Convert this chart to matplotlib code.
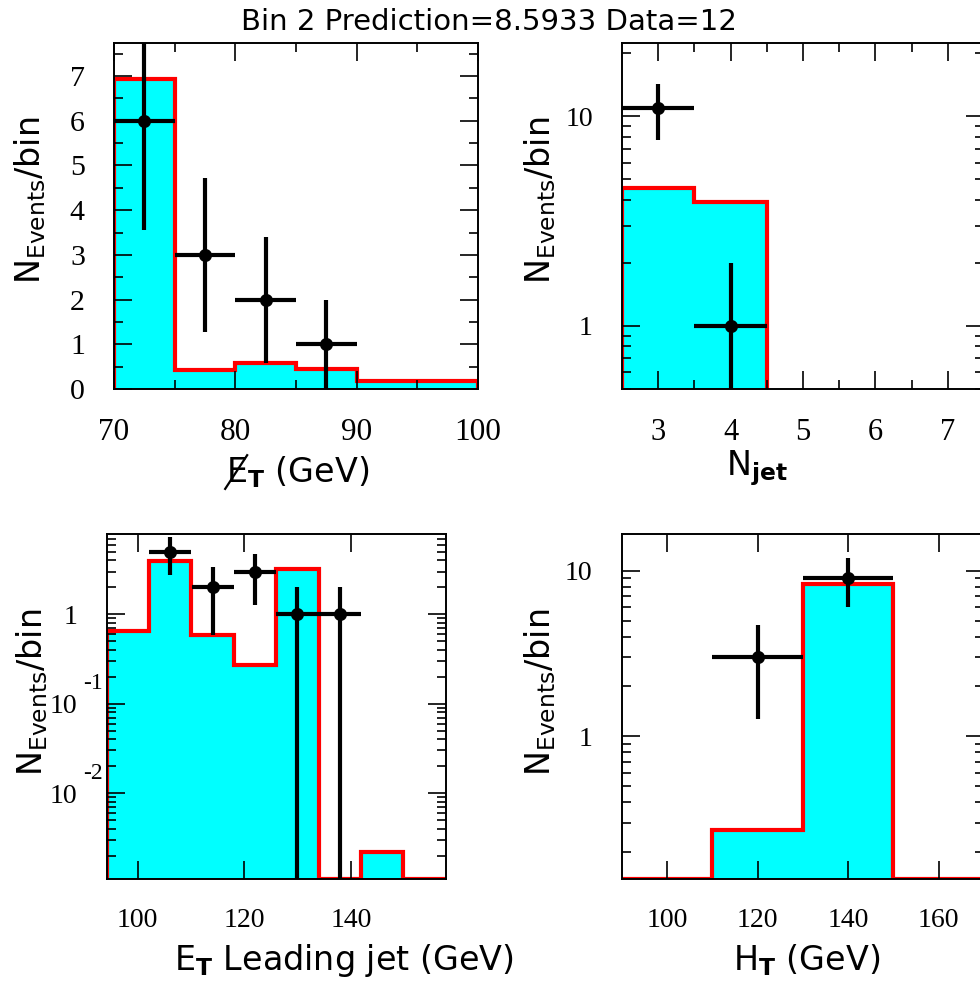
import numpy as np
import matplotlib
matplotlib.use('Agg')
import matplotlib.pyplot as plt
from matplotlib import transforms
from matplotlib.lines import Line2D
from matplotlib.ticker import FixedLocator, FixedFormatter, NullFormatter, LogLocator

plt.rcParams['mathtext.fontset'] = 'dejavusans'

title = 'Bin 2 Prediction=8.5933 Data=12'

# missing ET
met_edges = [70, 75, 80, 85, 90, 95, 100]
met_pred = [6.93, 0.42, 0.58, 0.45, 0.17, 0.17]
met_x = [72.5, 77.5, 82.5, 87.5]
met_xerr = [2.5, 2.5, 2.5, 2.5]
met_data = [6, 3, 2, 1]
met_err = [2.45, 1.73, 1.41, 1.0]

# number of jets
njet_edges = [2.5, 3.5, 4.5]
njet_pred = [4.55, 3.9]
njet_x = [3, 4]
njet_xerr = [0.5, 0.5]
njet_data = [11, 1]
njet_err = [3.32, 1.0]

# leading jet ET
jet_edges = [94.2, 102.15, 110.1, 118.05, 126.0, 133.95, 141.9, 149.85, 157.8]
jet_pred = [0.65, 3.97, 0.59, 0.27, 3.18, 0, 0.0022, 0]
jet_x = [106.1, 114.1, 122.0, 129.9, 137.9]
jet_xerr = [3.975] * 5
jet_data = [5, 2, 3, 1, 1]
jet_err = [2.24, 1.41, 1.73, 1.0, 1.0]

# HT
ht_edges = [90, 110, 130, 150, 170]
ht_pred = [0, 0.27, 8.3, 0]
ht_x = [120, 140]
ht_xerr = [10, 10]
ht_data = [3, 9]
ht_err = [1.73, 3.0]

ylab = 'N$_{\\mathregular{Events}}$/bin'
W, H = 980, 986


def draw_hist(ax, edges, vals, base):
    v = np.maximum(np.array(vals, dtype=float), base)
    ax.stairs(v, edges, baseline=base, fill=True, color='#00ffff', lw=0)
    ax.stairs(v, edges, baseline=base, color='#ff0000', lw=3)


def draw_data(ax, x, xerr, y, yerr):
    ax.errorbar(x, y, xerr=xerr, yerr=yerr, fmt='o', color='k', ms=8.4,
                elinewidth=3, capsize=0, zorder=5)


def style(ax, xs, ys):
    for s in ax.spines.values():
        s.set_linewidth(1.4)
    ax.tick_params(which='both', direction='in', top=True, right=True, width=1.2)
    ax.tick_params(which='major', length=13)
    ax.tick_params(which='minor', length=6.5)
    ax.tick_params(axis='x', pad=21, labelsize=xs)
    ax.tick_params(axis='y', pad=21, labelsize=ys)
    for lab in ax.get_xticklabels() + ax.get_yticklabels():
        lab.set_family('Liberation Serif')


def box(l, r, t, b):
    return [l / W, (H - b) / H, (r - l) / W, (b - t) / H]


fig = plt.figure(figsize=(9.8, 9.86), dpi=100)

# top left
ax1 = fig.add_axes(box(114, 478, 43, 389))
draw_hist(ax1, met_edges, met_pred, 0)
draw_data(ax1, met_x, met_xerr, met_data, met_err)
ax1.set_xlim(70, 100)
ax1.set_ylim(0, 7.74)
ax1.xaxis.set_major_locator(FixedLocator([70, 80, 90, 100]))
ax1.xaxis.set_minor_locator(FixedLocator([75, 85, 95]))
ax1.yaxis.set_major_locator(FixedLocator(range(8)))
ax1.yaxis.set_minor_locator(FixedLocator(np.arange(0.5, 7.6, 1.0)))
style(ax1, 22.5, 21.5)
ax1.set_xlabel('E$_{\\mathbf{T}}$ (GeV)', fontsize=24, va='center')
ax1.xaxis.set_label_coords(0.505, -0.24)
ax1.set_ylabel(ylab, fontsize=24, va='center')
ax1.yaxis.set_label_coords(-0.23, 0.546)

# top right
ax2 = fig.add_axes(box(622, 984, 43, 389))
ax2.set_yscale('log')
draw_hist(ax2, njet_edges, njet_pred, 0.5)
draw_data(ax2, njet_x, njet_xerr, njet_data, njet_err)
ax2.set_xlim(2.5, 7.5)
ax2.set_ylim(0.5, 22.4)
ax2.xaxis.set_major_locator(FixedLocator([3, 4, 5, 6, 7]))
ax2.xaxis.set_minor_locator(FixedLocator([3.5, 4.5, 5.5, 6.5, 7.5]))
ax2.yaxis.set_major_locator(FixedLocator([1, 10]))
ax2.yaxis.set_major_formatter(FixedFormatter(['1', '10']))
ax2.yaxis.set_minor_locator(LogLocator(subs=np.arange(2, 10)))
ax2.yaxis.set_minor_formatter(NullFormatter())
style(ax2, 22, 20)
ax2.set_xlabel('N$_{\\mathbf{jet}}$', fontsize=24, va='center')
ax2.xaxis.set_label_coords(0.373, -0.228)
ax2.set_ylabel(ylab, fontsize=24, va='center')
ax2.yaxis.set_label_coords(-0.226, 0.546)

# bottom left
ax3 = fig.add_axes(box(106.7, 445.7, 534, 879.3))
ax3.set_yscale('log')
draw_hist(ax3, jet_edges, jet_pred, 0.00109)
draw_data(ax3, jet_x, jet_xerr, jet_data, jet_err)
ax3.set_xlim(94.2, 157.8)
ax3.set_ylim(0.00109, 7.88)
ax3.xaxis.set_major_locator(FixedLocator([100, 120, 140]))
ax3.yaxis.set_major_locator(FixedLocator([0.01, 0.1, 1]))
ax3.yaxis.set_major_formatter(FixedFormatter(['10', '10', '1']))
ax3.yaxis.set_minor_locator(LogLocator(subs=np.arange(2, 10)))
ax3.yaxis.set_minor_formatter(NullFormatter())
style(ax3, 20, 20)
exp_tr = transforms.offset_copy(ax3.get_yaxis_transform(), fig=fig, x=-4, y=20, units='dots')
for yv, ex in [(0.1, '-1'), (0.01, '-2')]:
    ax3.text(0, yv, ex, transform=exp_tr, ha='right', va='center',
             fontsize=17, family='Liberation Serif')
ax3.set_xlabel('E$_{\\mathbf{T}}$ Leading jet (GeV)', fontsize=24, va='center')
ax3.xaxis.set_label_coords(0.6985, -0.234)
ax3.set_ylabel(ylab, fontsize=24, va='center')
ax3.yaxis.set_label_coords(-0.22, 0.542)

# bottom right
ax4 = fig.add_axes(box(621.7, 984, 534, 879.3))
ax4.set_yscale('log')
draw_hist(ax4, ht_edges, ht_pred, 0.136)
draw_data(ax4, ht_x, ht_xerr, ht_data, ht_err)
ax4.set_xlim(90, 170)
ax4.set_ylim(0.136, 16.7)
ax4.xaxis.set_major_locator(FixedLocator([100, 120, 140, 160]))
ax4.yaxis.set_major_locator(FixedLocator([1, 10]))
ax4.yaxis.set_major_formatter(FixedFormatter(['1', '10']))
ax4.yaxis.set_minor_locator(LogLocator(subs=np.arange(2, 10)))
ax4.yaxis.set_minor_formatter(NullFormatter())
style(ax4, 20, 20)
ax4.set_xlabel('H$_{\\mathbf{T}}$ (GeV)', fontsize=24, va='center')
ax4.xaxis.set_label_coords(0.51, -0.234)
ax4.set_ylabel(ylab, fontsize=24, va='center')
ax4.yaxis.set_label_coords(-0.2255, 0.542)

fig.text(0.499, 1 - 22 / H, title, fontsize=21, ha='center', va='center')

# slash through the E of the missing-ET label
fig.canvas.draw()
bb = ax1.xaxis.label.get_window_extent()
fig.add_artist(Line2D([bb.x0 - 1, bb.x0 + 21], [bb.y0 + 1, bb.y1 - 1],
                      transform=transforms.IdentityTransform(), color='k', lw=1.6))

fig.savefig('out.png', dpi=100)
